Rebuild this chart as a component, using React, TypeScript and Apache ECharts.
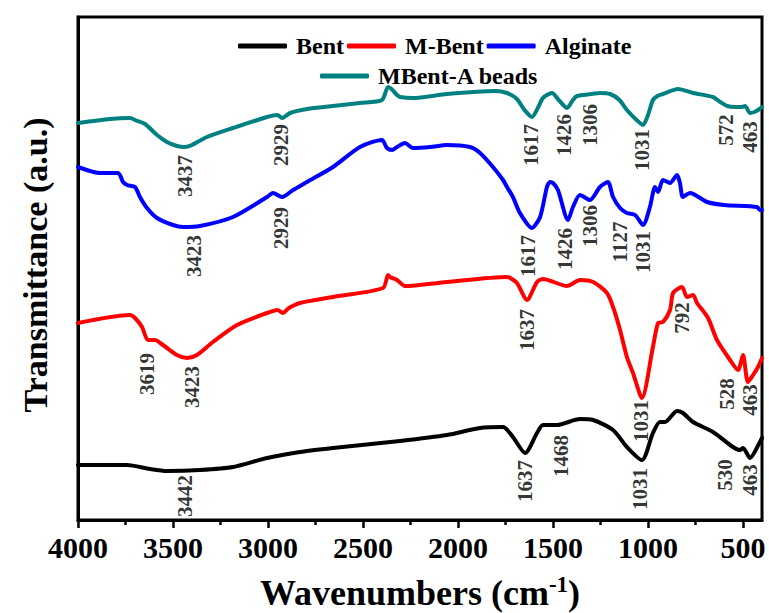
import React, { useEffect, useRef } from 'react';
import * as echarts from 'echarts';

const FONT = "'Liberation Serif', 'Times New Roman', serif";

// x-axis range (wavenumbers, cm-1) and tick settings
const X_MIN = 400;
const X_MAX = 4000;
const TICK_STEP = 500;
const xTitleMain = 'Wavenumbers (cm';
const xTitleSup = '-1';
const yTitle = 'Transmittance (a.u.)';

const seriesNames = ['Bent', 'M-Bent', 'Alginate', 'MBent-A beads'];
const seriesColors = ['#000000', '#ff0000', '#0000ff', '#008080'];

// [wavenumber, offset transmittance (a.u.)]
const bent = [
  [4000, 55], [3742, 55], [3621, 51], [3532, 49], [3358, 50], [3184, 53], [3005, 62],
  [2832, 68], [2658, 72], [2305, 79], [2058, 85], [1884, 92], [1763, 93], [1711, 83],
  [1647, 67], [1584, 87], [1553, 95], [1479, 95], [1358, 101], [1289, 100], [1184, 90],
  [1111, 73], [1032, 60], [974, 87], [937, 98], [911, 98], [847, 109], [816, 107],
  [763, 98], [658, 88], [553, 73], [516, 70], [500, 72], [463, 62], [411, 78], [400, 82],
];

const mBent = [
  [4000, 197], [3726, 205], [3700, 202], [3663, 193], [3632, 180], [3595, 180], [3553, 175],
  [3479, 165], [3426, 162], [3374, 165], [3290, 178], [3163, 195], [3005, 207], [2950, 210],
  [2921, 207], [2890, 212], [2832, 217], [2658, 223], [2395, 232], [2368, 245], [2358, 243],
  [2321, 240], [2279, 234], [2058, 238], [1742, 243], [1690, 237], [1637, 220], [1584, 238],
  [1553, 241], [1426, 234], [1358, 240], [1289, 238], [1216, 227], [1184, 213], [1147, 190],
  [1111, 163], [1079, 147], [1032, 122], [974, 173], [947, 197], [921, 198], [884, 210],
  [868, 227], [821, 233], [795, 223], [763, 225], [742, 217], [684, 202], [637, 180],
  [568, 160], [526, 150], [500, 165], [474, 138], [447, 145], [421, 153], [400, 162],
];

const alginate = [
  [4000, 353], [3884, 347], [3789, 347], [3763, 338], [3742, 335], [3700, 333], [3674, 323],
  [3637, 312], [3584, 302], [3500, 295], [3447, 293], [3358, 294], [3184, 303], [3005, 323],
  [2974, 327], [2926, 323], [2868, 330], [2795, 338], [2658, 353], [2516, 373], [2400, 380],
  [2374, 372], [2347, 370], [2321, 373], [2279, 377], [2237, 372], [2147, 373], [2058, 375],
  [1937, 373], [1884, 367], [1816, 353], [1763, 340], [1742, 333], [1711, 323], [1674, 307],
  [1611, 292], [1568, 303], [1532, 333], [1516, 338], [1500, 337], [1474, 330], [1421, 300],
  [1395, 313], [1358, 325], [1305, 320], [1253, 333], [1211, 338], [1184, 323], [1147, 312],
  [1111, 307], [1068, 305], [1026, 295], [990, 313], [963, 333], [947, 328], [921, 340],
  [884, 337], [847, 345], [832, 337], [816, 323], [779, 327], [689, 318], [600, 315],
  [426, 313], [411, 310], [400, 310],
];

const beads = [
  [4000, 397], [3832, 401], [3726, 402], [3700, 400], [3647, 396], [3584, 385], [3532, 378],
  [3479, 374], [3437, 373], [3400, 375], [3321, 383], [3184, 392], [3005, 403], [2950, 405],
  [2926, 402], [2884, 407], [2795, 411], [2658, 414], [2516, 417], [2400, 420], [2368, 433],
  [2350, 431], [2321, 425], [2305, 423], [2237, 422], [2058, 426], [1805, 429], [1742, 427],
  [1690, 421], [1650, 410], [1611, 403], [1580, 412], [1553, 422], [1505, 427], [1470, 420],
  [1426, 412], [1395, 420], [1374, 424], [1300, 426], [1253, 427], [1200, 426], [1150, 420],
  [1111, 410], [1060, 400], [1026, 395], [1000, 405], [974, 420], [950, 424], [921, 426],
  [842, 431], [763, 427], [658, 423], [620, 418], [584, 414], [540, 413], [505, 413],
  [489, 414], [463, 407], [440, 408], [421, 410], [400, 413],
];

// peak annotations: [wavenumber position, vertical position (a.u.), text]
const bentPeaks = [
  [3437, 24, '3442'], [1647, 39, '1637'], [1458, 64, '1468'], [1042, 31, '1031'],
  [595, 45, '530'], [463, 40, '463'],
];
const mBentPeaks = [
  [3637, 146, '3619'], [3400, 133, '3423'], [1637, 190, '1637'], [821, 202, '792'],
  [1037, 99, '1031'], [584, 126, '528'], [463, 120, '463'],
];
const alginatePeaks = [
  [3390, 264, '3423'], [2929, 292, '2929'], [1632, 264, '1617'], [1437, 271, '1426'],
  [1305, 294, '1306'], [1147, 278, '1127'], [1026, 268, '1031'],
];
const beadsPeaks = [
  [3437, 344, '3437'], [2929, 375, '2929'], [1617, 375, '1617'], [1440, 385, '1426'],
  [1306, 395, '1306'], [1031, 370, '1031'], [590, 390, '572'], [463, 383, '463'],
];

const spectra = [bent, mBent, alginate, beads];
const peakSets = [bentPeaks, mBentPeaks, alginatePeaks, beadsPeaks];

const W = 769;
const H = 613;
const PLOT_LEFT = 78;
const PLOT_RIGHT = 762;
const PLOT_TOP = 17;
const PLOT_BOTTOM = 520;
const Y_MAX = PLOT_BOTTOM - PLOT_TOP;

export default function App() {
  const ref = useRef<HTMLDivElement>(null);

  useEffect(() => {
    document.body.style.margin = '0';
    const chart = echarts.init(ref.current as HTMLDivElement, null, { renderer: 'svg' });

    const plotW = PLOT_RIGHT - PLOT_LEFT;
    const tickAxisW = (plotW * X_MAX) / (X_MAX - X_MIN);

    const lineSeries = spectra.map((d, i) => ({
      name: seriesNames[i],
      type: 'line',
      xAxisIndex: 0,
      yAxisIndex: 0,
      data: d,
      showSymbol: false,
      symbol: 'none',
      smooth: 0.25,
      lineStyle: { color: seriesColors[i], width: 4, cap: 'round', join: 'round' },
      itemStyle: { color: seriesColors[i] },
      z: 3,
    }));

    const labelSeries = peakSets.map((p, i) => ({
      name: 'peaks-' + i,
      type: 'scatter',
      xAxisIndex: 0,
      yAxisIndex: 0,
      symbolSize: 1,
      itemStyle: { color: 'rgba(0,0,0,0)' },
      silent: true,
      z: 5,
      data: p.map((q) => ({ name: q[2], value: [q[0], q[1]] })),
      label: {
        show: true,
        position: 'inside',
        rotate: 90,
        formatter: '{b}',
        color: '#000',
        fontFamily: FONT,
        fontWeight: 'bold',
        fontSize: 21,
      },
    }));

    const legendText = {
      color: '#000',
      fontFamily: FONT,
      fontWeight: 'bold',
      fontSize: 24,
      padding: [0, 0, 0, 4],
    };

    chart.setOption({
      animation: false,
      backgroundColor: '#ffffff',
      grid: [
        {
          left: PLOT_LEFT,
          right: W - PLOT_RIGHT,
          top: PLOT_TOP,
          bottom: H - PLOT_BOTTOM,
          show: true,
          borderColor: '#000',
          borderWidth: 3,
          backgroundColor: 'transparent',
          outerBoundsMode: 'none',
          containLabel: false,
        },
        {
          left: PLOT_LEFT,
          width: tickAxisW,
          top: PLOT_TOP,
          bottom: H - PLOT_BOTTOM,
          show: false,
          outerBoundsMode: 'none',
          containLabel: false,
        },
      ],
      legend: [
        {
          data: seriesNames.slice(0, 3),
          left: 233,
          top: 29,
          padding: 5,
          orient: 'horizontal',
          icon: 'roundRect',
          itemWidth: 49,
          itemHeight: 5,
          itemGap: 3,
          selectedMode: false,
          textStyle: legendText,
        },
        {
          data: seriesNames.slice(3),
          left: 315,
          top: 59,
          padding: 5,
          orient: 'horizontal',
          icon: 'roundRect',
          itemWidth: 49,
          itemHeight: 5,
          selectedMode: false,
          textStyle: legendText,
        },
      ],
      xAxis: [
        {
          type: 'value',
          gridIndex: 0,
          min: X_MIN,
          max: X_MAX,
          inverse: true,
          axisLine: { show: true, lineStyle: { color: '#000', width: 3 } },
          axisTick: { show: false },
          axisLabel: { show: false },
          splitLine: { show: false },
          name: '{a|' + xTitleMain + '}{b|' + xTitleSup + '}{a|)}',
          nameLocation: 'middle',
          nameGap: 53,
          nameTextStyle: {
            rich: {
              a: { fontFamily: FONT, fontWeight: 'bold', fontSize: 36, color: '#000', lineHeight: 40 },
              b: {
                fontFamily: FONT,
                fontWeight: 'bold',
                fontSize: 23,
                color: '#000',
                lineHeight: 20,
                verticalAlign: 'top',
              },
            },
          },
        },
        {
          type: 'value',
          gridIndex: 1,
          min: 0,
          max: X_MAX,
          interval: TICK_STEP,
          inverse: true,
          axisLine: { show: false },
          axisTick: { show: true, inside: false, length: 8, lineStyle: { color: '#000', width: 2.5 } },
          minorTick: { show: true, splitNumber: 2, length: 5, lineStyle: { color: '#000', width: 2.5 } },
          axisLabel: {
            show: true,
            margin: 12,
            color: '#000',
            fontFamily: FONT,
            fontWeight: 'bold',
            fontSize: 30,
            formatter: (v: number) => (v === 0 ? '' : String(v)),
          },
          splitLine: { show: false },
          minorSplitLine: { show: false },
        },
      ],
      yAxis: [
        {
          type: 'value',
          gridIndex: 0,
          min: 0,
          max: Y_MAX,
          axisLine: { show: true, lineStyle: { color: '#000', width: 3 } },
          axisTick: { show: false },
          axisLabel: { show: false },
          splitLine: { show: false },
        },
        {
          type: 'value',
          gridIndex: 1,
          min: 0,
          max: Y_MAX,
          show: false,
        },
      ],
      graphic: [
        {
          type: 'text',
          x: 35,
          y: 265,
          rotation: Math.PI / 2,
          style: {
            text: yTitle,
            fontFamily: FONT,
            fontWeight: 'bold',
            fontSize: 34,
            fill: '#000',
            textAlign: 'center',
            textVerticalAlign: 'middle',
          },
        },
      ],
      series: [...lineSeries, ...labelSeries],
    });

    return () => chart.dispose();
  }, []);

  return (
    <div
      ref={ref}
      style={{ position: 'absolute', left: 0, top: 0, width: W, height: H, overflow: 'hidden', background: '#fff' }}
    />
  );
}
